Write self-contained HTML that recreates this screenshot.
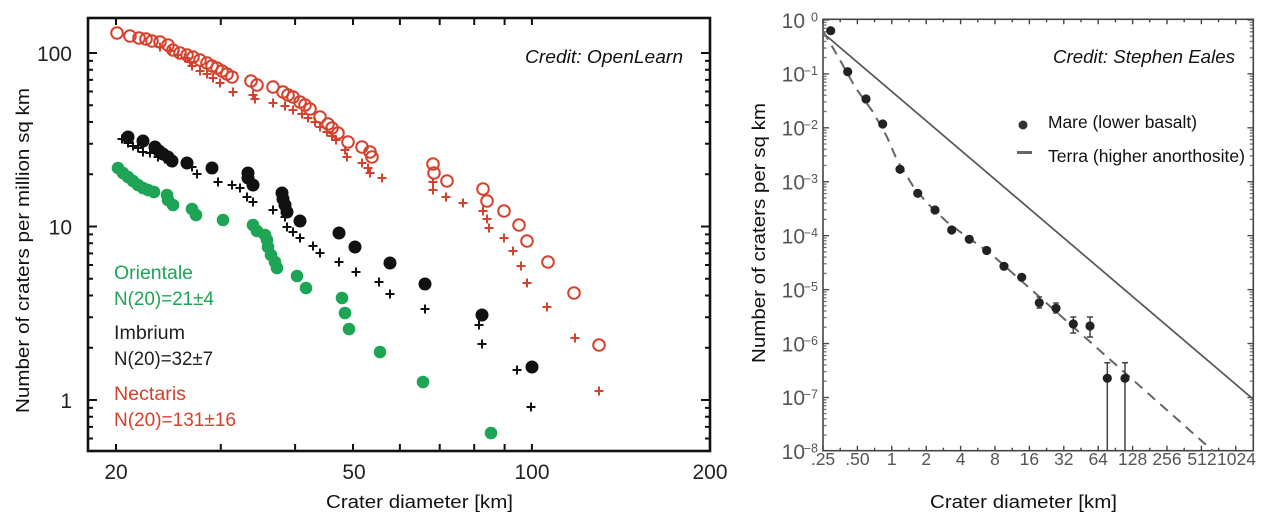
<!DOCTYPE html>
<html><head><meta charset="utf-8"><style>
html,body{margin:0;padding:0;background:#fff;}
body{width:1270px;height:523px;overflow:hidden;}
svg{display:block;font-family:"Liberation Sans",sans-serif;}
</style></head><body>
<svg width="1270" height="523" viewBox="0 0 1270 523" xmlns="http://www.w3.org/2000/svg">
<defs>
<path id="pl" d="M-4.5,0h9M0,-4.5v9"/>
<pattern id="ymL" patternUnits="userSpaceOnUse" x="823" y="19.3" width="10" height="53.93">
<rect x="0" y="0" width="6" height="1.3" fill="#444"/>
<rect x="0" y="2.5" width="3.5" height="1.1" fill="#555"/>
<rect x="0" y="5.2" width="3.5" height="1.1" fill="#555"/>
<rect x="0" y="8.4" width="3.5" height="1.1" fill="#555"/>
<rect x="0" y="12" width="3.5" height="1.1" fill="#555"/>
<rect x="0" y="16.3" width="3.5" height="1.1" fill="#555"/>
<rect x="0" y="21.5" width="3.5" height="1.1" fill="#555"/>
<rect x="0" y="28.2" width="3.5" height="1.1" fill="#555"/>
<rect x="0" y="37.7" width="3.5" height="1.1" fill="#555"/>
</pattern>
<pattern id="ymR" patternUnits="userSpaceOnUse" x="1243.3" y="19.3" width="10" height="53.93">
<rect x="4" y="0" width="6" height="1.3" fill="#444"/>
<rect x="6.5" y="2.5" width="3.5" height="1.1" fill="#555"/>
<rect x="6.5" y="5.2" width="3.5" height="1.1" fill="#555"/>
<rect x="6.5" y="8.4" width="3.5" height="1.1" fill="#555"/>
<rect x="6.5" y="12" width="3.5" height="1.1" fill="#555"/>
<rect x="6.5" y="16.3" width="3.5" height="1.1" fill="#555"/>
<rect x="6.5" y="21.5" width="3.5" height="1.1" fill="#555"/>
<rect x="6.5" y="28.2" width="3.5" height="1.1" fill="#555"/>
<rect x="6.5" y="37.7" width="3.5" height="1.1" fill="#555"/>
</pattern>
</defs>

<!-- ================= LEFT CHART ================= -->
<rect x="88" y="18" width="622" height="433" fill="none" stroke="#111" stroke-width="2.6"/>
<g stroke="#111" stroke-width="2">
<!-- x ticks bottom & top -->
<path d="M116,451v-7M220.8,451v-7M295.1,451v-7M353,451v-7M399.9,451v-7M439.7,451v-7M474.2,451v-7M504.6,451v-7M531.9,451v-7"/>
<path d="M116,18v7M220.8,18v7M295.1,18v7M353,18v7M399.9,18v7M439.7,18v7M474.2,18v7M504.6,18v7M531.9,18v7"/>
<!-- y major -->
<path d="M88,400h9M88,226.5h9M88,53h9M710,400h-9M710,226.5h-9M710,53h-9"/>
<!-- y minor left -->
<path d="M88,438.5h5M88,426.9h5M88,416.8h5M88,407.9h5M88,347.8h5M88,317.2h5M88,295.5h5M88,278.7h5M88,265h5M88,253.4h5M88,243.3h5M88,234.4h5M88,174.3h5M88,143.7h5M88,122h5M88,105.2h5M88,91.5h5M88,79.9h5M88,69.8h5M88,60.9h5"/>
<!-- y minor right -->
<path d="M710,438.5h-5M710,426.9h-5M710,416.8h-5M710,407.9h-5M710,347.8h-5M710,317.2h-5M710,295.5h-5M710,278.7h-5M710,265h-5M710,253.4h-5M710,243.3h-5M710,234.4h-5M710,174.3h-5M710,143.7h-5M710,122h-5M710,105.2h-5M710,91.5h-5M710,79.9h-5M710,69.8h-5M710,60.9h-5"/>
</g>

<!-- tick labels -->
<g font-size="21" fill="#222">
<text x="72" y="61" text-anchor="end">100</text>
<text x="72" y="234.5" text-anchor="end">10</text>
<text x="72" y="408" text-anchor="end">1</text>
<text x="116" y="479" text-anchor="middle">20</text>
<text x="354" y="479" text-anchor="middle">50</text>
<text x="532" y="479" text-anchor="middle">100</text>
<text x="710" y="479" text-anchor="middle">200</text>
</g>

<!-- titles -->
<text x="326" y="508" font-size="18.5" fill="#111" textLength="187" lengthAdjust="spacingAndGlyphs">Crater diameter [km]</text>
<text transform="translate(29,250.5) rotate(-90)" text-anchor="middle" font-size="18.5" fill="#111" textLength="325" lengthAdjust="spacingAndGlyphs">Number of craters per million sq km</text>
<text x="525" y="63" font-size="18.5" font-style="italic" fill="#111" textLength="158" lengthAdjust="spacingAndGlyphs">Credit: OpenLearn</text>

<!-- legend -->
<g font-size="19">
<text x="114" y="279" fill="#1ea455" textLength="79" lengthAdjust="spacingAndGlyphs">Orientale</text>
<text x="114" y="305" fill="#1ea455" textLength="100" lengthAdjust="spacingAndGlyphs">N(20)=21±4</text>
<text x="114" y="339" fill="#222" textLength="71" lengthAdjust="spacingAndGlyphs">Imbrium</text>
<text x="114" y="365" fill="#222" textLength="99" lengthAdjust="spacingAndGlyphs">N(20)=32±7</text>
<text x="114" y="400" fill="#d4412c" textLength="72" lengthAdjust="spacingAndGlyphs">Nectaris</text>
<text x="114" y="426" fill="#d4412c" textLength="122" lengthAdjust="spacingAndGlyphs">N(20)=131±16</text>
</g>

<!-- Nectaris pluses -->
<g stroke="#d4412c" stroke-width="2" fill="none">
<use href="#pl" x="160" y="47"/><use href="#pl" x="170" y="51"/><use href="#pl" x="178" y="55"/><use href="#pl" x="185" y="58"/>
<use href="#pl" x="190" y="62"/><use href="#pl" x="192" y="66"/><use href="#pl" x="200" y="71"/><use href="#pl" x="207" y="74"/>
<use href="#pl" x="213" y="78"/><use href="#pl" x="220" y="83"/><use href="#pl" x="233" y="92"/><use href="#pl" x="253" y="95"/>
<use href="#pl" x="255" y="99"/><use href="#pl" x="273" y="103"/><use href="#pl" x="285" y="106"/><use href="#pl" x="293" y="110"/>
<use href="#pl" x="302" y="114"/><use href="#pl" x="308" y="118"/><use href="#pl" x="315" y="122"/><use href="#pl" x="320" y="127"/>
<use href="#pl" x="327" y="132"/><use href="#pl" x="332" y="136"/><use href="#pl" x="336" y="140"/><use href="#pl" x="345" y="150"/>
<use href="#pl" x="347" y="157"/><use href="#pl" x="362" y="163"/><use href="#pl" x="368" y="168"/><use href="#pl" x="370" y="173"/>
<use href="#pl" x="382" y="178"/><use href="#pl" x="433" y="182"/><use href="#pl" x="433" y="190"/><use href="#pl" x="446" y="197"/>
<use href="#pl" x="463" y="203"/><use href="#pl" x="483" y="211"/><use href="#pl" x="487" y="219"/><use href="#pl" x="489" y="228"/>
<use href="#pl" x="504" y="238"/><use href="#pl" x="513" y="251"/><use href="#pl" x="521" y="266"/><use href="#pl" x="527" y="283"/>
<use href="#pl" x="547" y="307"/><use href="#pl" x="575" y="338"/><use href="#pl" x="599" y="391"/>
</g>
<!-- Nectaris circles -->
<g stroke="#d4412c" stroke-width="2" fill="none">
<circle cx="117" cy="33" r="5.8"/><circle cx="130" cy="36" r="5.8"/><circle cx="139" cy="38" r="5.8"/><circle cx="146" cy="39" r="5.8"/>
<circle cx="152" cy="41" r="5.8"/><circle cx="160" cy="42" r="5.8"/><circle cx="168" cy="45" r="5.8"/><circle cx="173" cy="50" r="5.8"/>
<circle cx="180" cy="53" r="5.8"/><circle cx="187" cy="55" r="5.8"/><circle cx="193" cy="57" r="5.8"/><circle cx="200" cy="60" r="5.8"/>
<circle cx="207" cy="63" r="5.8"/><circle cx="212" cy="66" r="5.8"/><circle cx="217" cy="68" r="5.8"/><circle cx="222" cy="71" r="5.8"/>
<circle cx="227" cy="74" r="5.8"/><circle cx="232" cy="77" r="5.8"/><circle cx="251" cy="81" r="5.8"/><circle cx="257" cy="85" r="5.8"/>
<circle cx="273" cy="87" r="5.8"/><circle cx="283" cy="92" r="5.8"/><circle cx="288" cy="95" r="5.8"/><circle cx="293" cy="97" r="5.8"/>
<circle cx="300" cy="102" r="5.8"/><circle cx="305" cy="105" r="5.8"/><circle cx="310" cy="109" r="5.8"/><circle cx="320" cy="117" r="5.8"/>
<circle cx="328" cy="124" r="5.8"/><circle cx="332" cy="128" r="5.8"/><circle cx="338" cy="133" r="5.8"/><circle cx="348" cy="142" r="5.8"/>
<circle cx="362" cy="147" r="5.8"/><circle cx="370" cy="152" r="5.8"/><circle cx="372" cy="157" r="5.8"/><circle cx="433" cy="164" r="5.8"/>
<circle cx="434" cy="173" r="5.8"/><circle cx="447" cy="181" r="5.8"/><circle cx="483" cy="189" r="5.8"/><circle cx="487" cy="201" r="5.8"/>
<circle cx="504" cy="211" r="5.8"/><circle cx="519" cy="225" r="5.8"/><circle cx="527" cy="241" r="5.8"/><circle cx="548" cy="262" r="5.8"/>
<circle cx="574" cy="293" r="5.8"/><circle cx="599" cy="345" r="5.8"/>
</g>

<!-- Imbrium pluses -->
<g stroke="#111" stroke-width="2" fill="none">
<use href="#pl" x="122" y="139"/><use href="#pl" x="128" y="143"/><use href="#pl" x="133" y="146"/><use href="#pl" x="138" y="148"/>
<use href="#pl" x="143" y="152"/><use href="#pl" x="150" y="153"/><use href="#pl" x="158" y="157"/><use href="#pl" x="165" y="159"/>
<use href="#pl" x="173" y="163"/><use href="#pl" x="192" y="167"/><use href="#pl" x="197" y="174"/><use href="#pl" x="218" y="182"/>
<use href="#pl" x="232" y="185"/><use href="#pl" x="240" y="188"/><use href="#pl" x="247" y="197"/><use href="#pl" x="253" y="202"/>
<use href="#pl" x="273" y="210"/><use href="#pl" x="285" y="217"/><use href="#pl" x="287" y="227"/><use href="#pl" x="293" y="232"/>
<use href="#pl" x="300" y="238"/><use href="#pl" x="313" y="246"/><use href="#pl" x="320" y="253"/><use href="#pl" x="339" y="262"/>
<use href="#pl" x="356" y="272"/><use href="#pl" x="379" y="282"/><use href="#pl" x="390" y="294"/><use href="#pl" x="425" y="309"/>
<use href="#pl" x="479" y="325"/><use href="#pl" x="482" y="344"/><use href="#pl" x="517" y="370"/><use href="#pl" x="531" y="407"/>
</g>
<!-- Imbrium circles -->
<g fill="#111">
<circle cx="128" cy="137" r="6.5"/><circle cx="143" cy="141" r="6.5"/><circle cx="155" cy="147" r="6.5"/><circle cx="159" cy="151" r="6.5"/>
<circle cx="163" cy="154" r="6.5"/><circle cx="168" cy="157" r="6.5"/><circle cx="172" cy="161" r="6.5"/><circle cx="187" cy="163" r="6.5"/>
<circle cx="212" cy="168" r="6.5"/><circle cx="248" cy="173" r="6.5"/><circle cx="248" cy="178" r="6.5"/><circle cx="253" cy="185" r="6.5"/>
<circle cx="282" cy="193" r="6.5"/><circle cx="283" cy="199" r="6.5"/><circle cx="285" cy="205" r="6.5"/><circle cx="287" cy="212" r="6.5"/>
<circle cx="300" cy="221" r="6.5"/><circle cx="339" cy="233" r="6.5"/><circle cx="355" cy="247" r="6.5"/><circle cx="390" cy="263" r="6.5"/>
<circle cx="425" cy="284" r="6.5"/><circle cx="482" cy="315" r="6.5"/><circle cx="532" cy="367" r="6.5"/>
</g>
<!-- Orientale circles -->
<g fill="#1ea455">
<circle cx="118" cy="168" r="6.3"/><circle cx="123" cy="173" r="6.3"/><circle cx="128" cy="177" r="6.3"/><circle cx="133" cy="181" r="6.3"/>
<circle cx="138" cy="185" r="6.3"/><circle cx="143" cy="188" r="6.3"/><circle cx="148" cy="190" r="6.3"/><circle cx="154" cy="192" r="6.3"/>
<circle cx="167" cy="195" r="6.3"/><circle cx="168" cy="200" r="6.3"/><circle cx="173" cy="205" r="6.3"/><circle cx="192" cy="209" r="6.3"/>
<circle cx="196" cy="215" r="6.3"/><circle cx="223" cy="220" r="6.3"/><circle cx="253" cy="225" r="6.3"/><circle cx="257" cy="231" r="6.3"/>
<circle cx="265" cy="235" r="6.3"/><circle cx="267" cy="240" r="6.3"/><circle cx="268" cy="247" r="6.3"/><circle cx="271" cy="255" r="6.3"/>
<circle cx="275" cy="262" r="6.3"/><circle cx="277" cy="268" r="6.3"/><circle cx="297" cy="276" r="6.3"/><circle cx="306" cy="288" r="6.3"/>
<circle cx="342" cy="298" r="6.3"/><circle cx="345" cy="313" r="6.3"/><circle cx="349" cy="329" r="6.3"/><circle cx="380" cy="352" r="6.3"/>
<circle cx="423" cy="382" r="6.3"/><circle cx="491" cy="433" r="6.3"/>
</g>

<!-- ================= RIGHT CHART ================= -->
<rect x="823" y="19.3" width="430.3" height="431.4" fill="none" stroke="#444" stroke-width="1.6"/>
<rect x="823" y="19.3" width="6" height="432" fill="url(#ymL)"/>
<rect x="1247.3" y="19.3" width="6" height="432" fill="url(#ymR)"/>
<g stroke="#444" stroke-width="1.4">
<path d="M823,450.7v-5M857.4,450.7v-5M891.8,450.7v-5M926.2,450.7v-5M960.6,450.7v-5M995,450.7v-5M1029.4,450.7v-5M1063.8,450.7v-5M1098.2,450.7v-5M1132.6,450.7v-5M1167,450.7v-5M1201.4,450.7v-5M1235.8,450.7v-5"/>
<path d="M840.2,450.7v-3M874.6,450.7v-3M909,450.7v-3M943.4,450.7v-3M977.8,450.7v-3M1012.2,450.7v-3M1046.6,450.7v-3M1081,450.7v-3M1115.4,450.7v-3M1149.8,450.7v-3M1184.2,450.7v-3M1218.6,450.7v-3"/>
<path d="M823,19.3v5M857.4,19.3v5M891.8,19.3v5M926.2,19.3v5M960.6,19.3v5M995,19.3v5M1029.4,19.3v5M1063.8,19.3v5M1098.2,19.3v5M1132.6,19.3v5M1167,19.3v5M1201.4,19.3v5M1235.8,19.3v5"/>
<path d="M840.2,19.3v3M874.6,19.3v3M909,19.3v3M943.4,19.3v3M977.8,19.3v3M1012.2,19.3v3M1046.6,19.3v3M1081,19.3v3M1115.4,19.3v3M1149.8,19.3v3M1184.2,19.3v3M1218.6,19.3v3"/>
</g>

<!-- y labels -->
<g fill="#555">
<g font-size="21" text-anchor="end">
<text x="805" y="27.8">10</text><text x="805" y="81.7">10</text><text x="805" y="135.6">10</text><text x="805" y="189.5">10</text>
<text x="805" y="243.4">10</text><text x="805" y="297.3">10</text><text x="805" y="351.3">10</text><text x="805" y="405.2">10</text><text x="805" y="459">10</text>
</g>
<g font-size="12.5" text-anchor="end">
<text x="818" y="21.3">0</text><text x="818" y="75.2">−1</text><text x="818" y="129.1">−2</text><text x="818" y="183">−3</text>
<text x="818" y="236.9">−4</text><text x="818" y="290.8">−5</text><text x="818" y="344.8">−6</text><text x="818" y="398.7">−7</text><text x="818" y="452.5">−8</text>
</g>
<g font-size="17.5" text-anchor="middle">
<text x="823" y="465">.25</text><text x="857.4" y="465">.50</text><text x="891.8" y="465">1</text><text x="926.2" y="465">2</text>
<text x="960.6" y="465">4</text><text x="995" y="465">8</text><text x="1029.4" y="465">16</text><text x="1063.8" y="465">32</text>
<text x="1098.2" y="465">64</text><text x="1132.6" y="465">128</text><text x="1167" y="465">256</text><text x="1202" y="465">512</text><text x="1236.5" y="465">1024</text>
</g>
</g>

<!-- titles -->
<text x="930" y="508" font-size="18.5" fill="#111" textLength="187" lengthAdjust="spacingAndGlyphs">Crater diameter [km]</text>
<text transform="translate(765,233) rotate(-90)" text-anchor="middle" font-size="18.5" fill="#111" textLength="260" lengthAdjust="spacingAndGlyphs">Number of craters per sq km</text>
<text x="1053" y="63" font-size="18.5" font-style="italic" fill="#111" textLength="182" lengthAdjust="spacingAndGlyphs">Credit: Stephen Eales</text>

<!-- legend -->
<circle cx="1023" cy="125" r="4.5" fill="#333"/>
<line x1="1017" y1="152.5" x2="1032" y2="152.5" stroke="#666" stroke-width="3"/>
<text x="1048" y="128" font-size="17.5" fill="#111" textLength="149" lengthAdjust="spacingAndGlyphs">Mare (lower basalt)</text>
<text x="1048" y="162" font-size="17.5" fill="#111" textLength="197" lengthAdjust="spacingAndGlyphs">Terra (higher anorthosite)</text>

<!-- Terra line -->
<line x1="823" y1="33" x2="1253" y2="399" stroke="#555" stroke-width="1.7"/>
<!-- Mare dashed fit -->
<polyline points="823,31 840,60 855,87 873,112 887,137 897,160 913,186 927,203 947,222 967,237 990,253 1213,451" fill="none" stroke="#666" stroke-width="2" stroke-dasharray="10,7"/>

<!-- error bars -->
<g stroke="#444" stroke-width="1.5" fill="none">
<path d="M1039.3,297v11M1036.5,297h5.6M1036.5,308h5.6"/>
<path d="M1056,303v10M1053.2,303h5.6M1053.2,313h5.6"/>
<path d="M1073.3,317v16M1070.3,317h6M1070.3,333h6"/>
<path d="M1090,317v20M1087,317h6M1087,337h6"/>
<path d="M1107.3,362.7V451M1104.3,362.7h6"/>
<path d="M1125,362.7V451M1122,362.7h6"/>
</g>
<!-- Mare points -->
<g fill="#222">
<circle cx="830.7" cy="30.7" r="4.6"/><circle cx="847.7" cy="71.7" r="4.6"/><circle cx="866" cy="99" r="4.6"/><circle cx="882.7" cy="124" r="4.6"/>
<circle cx="900" cy="169.3" r="4.6"/><circle cx="917.7" cy="193.3" r="4.6"/><circle cx="935" cy="210" r="4.6"/><circle cx="951.7" cy="230" r="4.6"/>
<circle cx="969.3" cy="239.3" r="4.6"/><circle cx="986.7" cy="250.5" r="4.6"/><circle cx="1004" cy="266.3" r="4.6"/><circle cx="1021.7" cy="277.3" r="4.6"/>
<circle cx="1039.3" cy="302.7" r="4.6"/><circle cx="1056" cy="308.3" r="4.6"/><circle cx="1073.3" cy="324" r="4.6"/><circle cx="1090" cy="326" r="4.6"/>
<circle cx="1107.3" cy="378.3" r="4.6"/><circle cx="1125" cy="378.3" r="4.6"/>
</g>
</svg>
</body></html>
